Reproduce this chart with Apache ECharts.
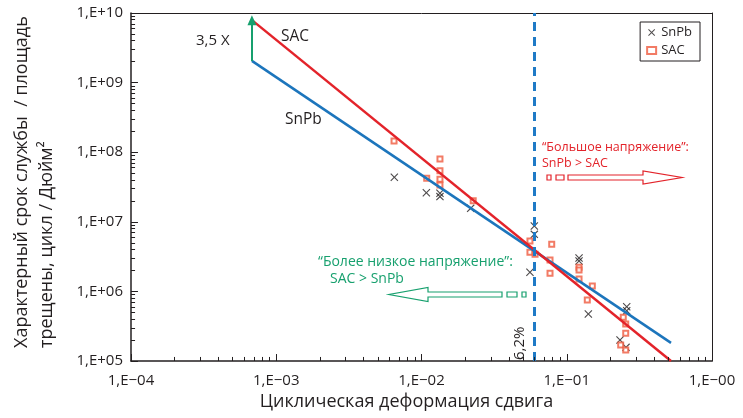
<!DOCTYPE html>
<html>
<head>
<meta charset="utf-8">
<script src="https://cdn.jsdelivr.net/npm/echarts@6/dist/echarts.min.js"></script>
<style>
  html, body { margin: 0; background: #fff; }
  #main { width: 743px; height: 418px; }
</style>
</head>
<body>
<div id="main"></div>
<script>
// подписи делений
const xTickLabels = ["1,E−04", "1,E−03", "1,E−02", "1,E−01", "1,E−00"];
const yTickLabels = ["1,E+05", "1,E+06", "1,E+07", "1,E+08", "1,E+09", "1,E+10"];

// SnPb, точки (деформация, циклы)
const snpbPoints = [
  [0.0065, 4.36e7], [0.0108, 2.62e7], [0.0134, 2.57e7], [0.0134, 2.3e7],
  [0.0218, 1.56e7], [0.0598, 8.7e6], [0.0598, 6.6e6], [0.0558, 1.88e6],
  [0.1215, 3.02e6], [0.1215, 2.73e6], [0.1408, 4.73e5], [0.2587, 6.03e5],
  [0.2587, 5.28e5], [0.2326, 2.0e5], [0.2559, 1.57e5]
];

// SAC, точки
const sacPoints = [
  [0.00647, 1.45e8], [0.01086, 4.22e7], [0.0134, 7.99e7], [0.0134, 5.42e7],
  [0.0134, 4.08e7], [0.0134, 3.38e7], [0.0227, 2.01e7], [0.0558, 5.3e6],
  [0.0558, 3.65e6], [0.0605, 3.41e6], [0.0788, 4.75e6], [0.0767, 2.83e6],
  [0.0767, 1.82e6], [0.1215, 2.22e6], [0.1215, 2.03e6], [0.1215, 1.51e6],
  [0.150, 1.2e6], [0.1385, 7.52e5], [0.245, 4.25e5], [0.2547, 3.4e5],
  [0.2547, 2.5e5], [0.2352, 1.7e5], [0.2547, 1.44e5]
];

// линии аппроксимации
const snpbFit = [[6.8e-4, 2.05e9], [0.522, 1.82e5]];
const sacFit = [[6.8e-4, 7.9e9], [0.522, 1.0e5]];

const strainLimit = 0.062; // 6,2 %

const X_MIN = 1e-4, X_MAX = 1;
const Y_MIN = 1e5, Y_MAX = 1e10;

const RED = "#e3232a";
const BLUE = "#1c75bc";
const GREEN = "#17a06e";
const SQ = "#ef5a3e";
const INK = "#231f20";
const FONT = "'Open Sans', 'Noto Sans', sans-serif";

const crossPath = "path://M1,0 L5,4 L9,0 L10,1 L6,5 L10,9 L9,10 L5,6 L1,10 L0,9 L4,5 L0,1 Z";

function logIndex(v) {
  return Math.round(Math.log10(v));
}

// деления осей как отрезки markLine (длина в долях декады)
const X_MAJOR = 0.10, X_MINOR = 0.058; // вертикальные деления оси X
const Y_MAJOR = 0.048, Y_MINOR = 0.028; // горизонтальные деления оси Y
const tickLines = [];
for (let e = -4; e <= 0; e++) {
  const v = Math.pow(10, e);
  tickLines.push([{ coord: [v, Y_MIN] }, { coord: [v, Y_MIN * Math.pow(10, X_MAJOR)] }]);
  if (e < 0) {
    for (let m = 2; m <= 9; m++) {
      tickLines.push([{ coord: [m * v, Y_MIN] }, { coord: [m * v, Y_MIN * Math.pow(10, X_MINOR)] }]);
    }
  }
}
for (let e = 5; e <= 10; e++) {
  const v = Math.pow(10, e);
  tickLines.push([{ coord: [X_MIN, v] }, { coord: [X_MIN * Math.pow(10, Y_MAJOR), v] }]);
  if (e < 10) {
    for (let m = 2; m <= 9; m++) {
      tickLines.push([{ coord: [X_MIN, m * v] }, { coord: [X_MIN * Math.pow(10, Y_MINOR), m * v] }]);
    }
  }
}

const chart = echarts.init(document.getElementById("main"), null, { renderer: "canvas" });

function txt(x, y, text, color, size, extra) {
  return Object.assign({
    type: "text",
    x: x,
    y: y,
    silent: true,
    style: {
      text: text,
      fill: color,
      font: size + "px " + FONT,
      textAlign: "left",
      textVerticalAlign: "middle"
    }
  }, extra || {});
}

// верхняя и правая рамка - пустые оси
const frameAxis = {
  type: "log", logBase: 10,
  axisLine: { show: true, onZero: false, lineStyle: { color: INK, width: 1 } },
  axisTick: { show: false }, minorTick: { show: false },
  axisLabel: { show: false }, splitLine: { show: false }
};

const option = {
  animation: false,
  backgroundColor: "#fff",
  grid: { left: 131, right: 31, top: 13, bottom: 57 },
  legend: {
    orient: "vertical",
    right: 43, top: 22,
    backgroundColor: "#fff",
    borderColor: INK, borderWidth: 1,
    padding: [4, 8, 4, 6],
    itemGap: 5, itemWidth: 9, itemHeight: 7,
    textStyle: { fontFamily: FONT, fontSize: 13, color: INK },
    data: ["SnPb", "SAC"]
  },
  xAxis: [
    {
      type: "log", logBase: 10, min: X_MIN, max: X_MAX,
      name: "Циклическая деформация сдвига",
      nameLocation: "middle", nameGap: 31,
      nameTextStyle: { fontFamily: FONT, fontSize: 18, color: INK, padding: [0, 30, 0, 0] },
      axisLine: { show: true, onZero: false, lineStyle: { color: INK, width: 1.5 } },
      axisTick: { show: false },
      splitLine: { show: false },
      axisLabel: {
        margin: 12, fontFamily: FONT, fontSize: 15, color: INK,
        formatter: v => xTickLabels[logIndex(v) + 4]
      }
    },
    Object.assign({ position: "top", min: X_MIN, max: X_MAX }, frameAxis)
  ],
  yAxis: [
    {
      type: "log", logBase: 10, min: Y_MIN, max: Y_MAX,
      axisLine: { show: true, onZero: false, lineStyle: { color: INK, width: 1.5 } },
      axisTick: { show: false },
      splitLine: { show: false },
      axisLabel: {
        margin: 8, fontFamily: FONT, fontSize: 15, color: INK,
        formatter: v => yTickLabels[logIndex(v) - 5]
      }
    },
    Object.assign({ position: "right", min: Y_MIN, max: Y_MAX }, frameAxis)
  ],
  series: [
    {
      name: "SnPb fit", type: "line", data: snpbFit,
      symbol: "none", silent: true,
      lineStyle: { color: BLUE, width: 2.5 },
      // зелёная стрелка 3,5 X
      markLine: {
        silent: true, symbol: ["none", "triangle"], symbolSize: [9, 10],
        label: { show: false },
        lineStyle: { color: GREEN, width: 2, type: "solid" },
        data: [[{ coord: snpbFit[0] }, { coord: sacFit[0] }]]
      }
    },
    {
      name: "SAC fit", type: "line", data: sacFit,
      symbol: "none", silent: true,
      lineStyle: { color: RED, width: 2.5 },
      // граница 6,2 %
      markLine: {
        silent: true, symbol: "none",
        label: { show: false },
        lineStyle: { color: "#1f7ac6", width: 3, type: [9, 6] },
        data: [{ xAxis: strainLimit }]
      }
    },
    {
      name: "SnPb", type: "scatter", data: snpbPoints,
      symbol: crossPath, symbolSize: 8,
      itemStyle: { color: INK },
      // деления осей
      markLine: {
        silent: true, symbol: "none",
        label: { show: false },
        emphasis: { disabled: true },
        lineStyle: { color: INK, width: 1, type: "solid", opacity: 1 },
        data: tickLines
      }
    },
    {
      name: "SAC", type: "scatter", data: sacPoints,
      symbol: "emptyRect", symbolSize: 5,
      itemStyle: { color: SQ, borderWidth: 1.3 }
    }
  ],
  graphic: [
    // подпись оси Y
    txt(22, 348, "Характерный срок службы  / площадь", INK, 18, { rotation: Math.PI / 2 }),
    txt(47, 348, "трещены, цикл / Дюйм²", INK, 18, { rotation: Math.PI / 2 }),
    txt(196, 41, "3,5 X", INK, 15),
    txt(281, 37, "SAC", INK, 15.5),
    txt(285, 120, "SnPb", INK, 15.5),
    txt(520, 360, "6,2%", INK, 15, { rotation: Math.PI / 2 }),
    // "Большое напряжение"
    txt(542, 147, "“Большое напряжение”:", RED, 12.5),
    txt(542, 163, "SnPb > SAC", RED, 12.5),
    { type: "rect", silent: true, shape: { x: 547, y: 175, width: 4, height: 5 },
      style: { fill: "#fff", stroke: RED, lineWidth: 1.2 } },
    { type: "rect", silent: true, shape: { x: 556, y: 175, width: 8, height: 5 },
      style: { fill: "#fff", stroke: RED, lineWidth: 1.2 } },
    { type: "polygon", silent: true,
      shape: { points: [[568, 175], [643, 175], [643, 171], [682, 177.5], [643, 184], [643, 180], [568, 180]] },
      style: { fill: "#fff", stroke: RED, lineWidth: 1.2 } },
    // "Более низкое напряжение"
    txt(318, 262, "“Более низкое напряжение”:", GREEN, 14),
    txt(330, 279, "SAC > SnPb", GREEN, 14),
    { type: "rect", silent: true, shape: { x: 522, y: 292, width: 4, height: 5 },
      style: { fill: "#fff", stroke: GREEN, lineWidth: 1.2 } },
    { type: "rect", silent: true, shape: { x: 507, y: 292, width: 10, height: 5 },
      style: { fill: "#fff", stroke: GREEN, lineWidth: 1.2 } },
    { type: "polygon", silent: true,
      shape: { points: [[502, 292], [428, 292], [428, 287.5], [389, 294.5], [428, 301.5], [428, 297], [502, 297]] },
      style: { fill: "#fff", stroke: GREEN, lineWidth: 1.2 } }
  ]
};

chart.setOption(option);
</script>
</body>
</html>
